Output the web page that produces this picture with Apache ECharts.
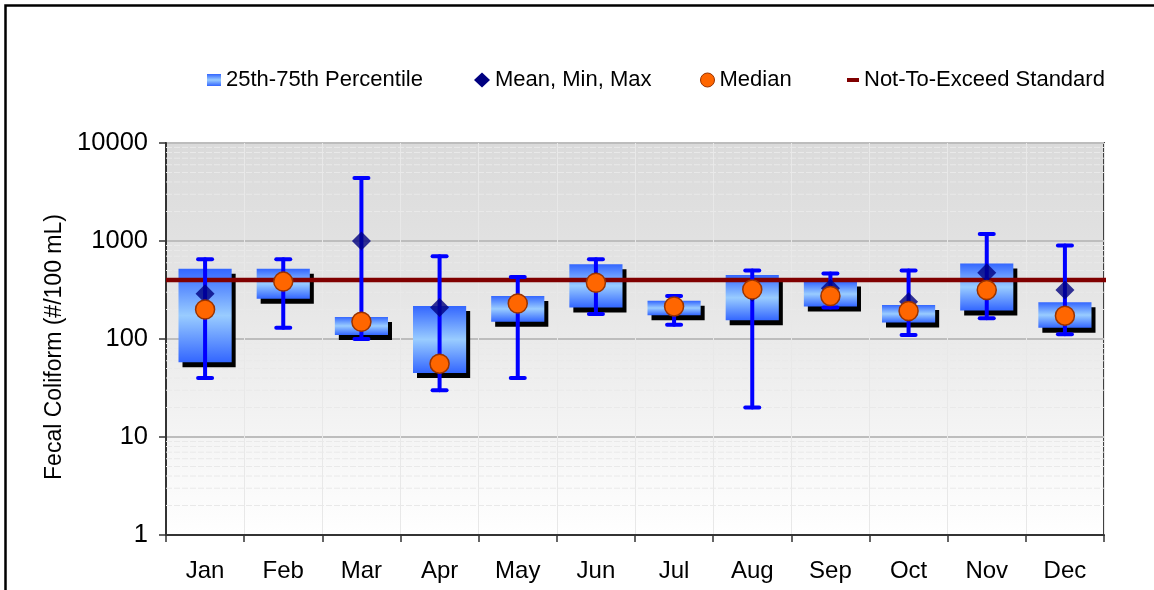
<!DOCTYPE html>
<html>
<head>
<meta charset="utf-8">
<script src="https://cdn.jsdelivr.net/npm/echarts@6/dist/echarts.min.js"></script>
<style>
  html, body { margin: 0; padding: 0; background: #fff; }
  #chart { width: 1154px; height: 590px; }
</style>
</head>
<body>
<div id="chart"></div>
<script>
// ---- Data ----
const months  = ['Jan','Feb','Mar','Apr','May','Jun','Jul','Aug','Sep','Oct','Nov','Dec'];
const p25     = [58, 258, 110, 45, 150, 210, 175, 155, 215, 147, 195, 130];
const p75     = [520, 520, 168, 217, 275, 580, 245, 450, 385, 222, 590, 237];
const minVals = [40, 130, 100, 30, 40, 180, 140, 20, 210, 110, 163, 112];
const maxVals = [650, 650, 4400, 700, 430, 650, 275, 500, 465, 500, 1180, 900];
const means   = [290, 385, 1000, 210, 230, 390, 215, 300, 330, 240, 475, 316];
const medians = [200, 385, 150, 56, 230, 375, 215, 320, 275, 193, 316, 173];
const standard = [400];
const yTicks = [1, 10, 100, 1000, 10000];

const FONT = "'Liberation Sans', Arial, sans-serif";

function blueGradient() {
  return new echarts.graphic.LinearGradient(0, 0, 0, 1, [
    { offset: 0, color: '#3366ff' },
    { offset: 0.5, color: '#99ccff' },
    { offset: 1, color: '#3366ff' }
  ]);
}

// minor log gridlines (2..9 in each decade)
const minorLines = [];
for (let d = 0; d < yTicks.length - 1; d++) {
  for (let k = 2; k <= 9; k++) minorLines.push([0, yTicks[d] * k]);
}

const chart = echarts.init(document.getElementById('chart'), null, { renderer: 'canvas' });

const legendText = { fontSize: 22, color: '#000', fontFamily: FONT };

const option = {
  animation: false,
  backgroundColor: '#ffffff',
  textStyle: { fontFamily: FONT },
  graphic: [{
    type: 'rect', silent: true, z: 100,
    shape: { x: 5.5, y: 5.5, width: 2000, height: 2000 },
    style: { fill: 'none', stroke: '#000', lineWidth: 2.5 }
  }],
  legend: [
    { left: 207, top: 69, padding: 0, itemWidth: 14, itemHeight: 12, textStyle: legendText,
      data: [{ name: '25th-75th Percentile', icon: 'rect', itemStyle: { color: blueGradient() } }] },
    { left: 474, top: 69, padding: 0, itemWidth: 16, itemHeight: 15, textStyle: legendText,
      data: [{ name: 'Mean, Min, Max', icon: 'diamond', itemStyle: { color: '#000080' } }] },
    { left: 700, top: 69, padding: 0, itemWidth: 14, itemHeight: 14, textStyle: legendText,
      data: [{ name: 'Median', icon: 'circle', itemStyle: { color: '#ff6600', borderColor: '#993300', borderWidth: 1 } }] },
    { left: 847, top: 69, padding: 0, itemWidth: 12, itemHeight: 4, textStyle: legendText,
      data: [{ name: 'Not-To-Exceed Standard', icon: 'rect', itemStyle: { color: '#800000' } }] }
  ],
  grid: {
    left: 166, right: 50, top: 143, bottom: 55,
    show: true,
    backgroundColor: new echarts.graphic.LinearGradient(0, 0, 0, 1, [
      { offset: 0, color: '#dadada' },
      { offset: 0.35, color: '#e4e4e4' },
      { offset: 1, color: '#ffffff' }
    ]),
    borderColor: '#404040', borderWidth: 2
  },
  xAxis: {
    type: 'category',
    data: months,
    boundaryGap: true,
    axisLine: { lineStyle: { color: '#333', width: 2 } },
    axisTick: { show: true, length: 7, lineStyle: { color: '#333', width: 1.5 } },
    axisLabel: { fontSize: 24, color: '#000', margin: 24, fontFamily: FONT },
    splitLine: { show: true, lineStyle: { color: '#e8e8e8', width: 1 } }
  },
  yAxis: {
    type: 'log',
    logBase: 10,
    min: yTicks[0],
    max: yTicks[yTicks.length - 1],
    name: 'Fecal Coliform (#/100 mL)',
    nameLocation: 'middle',
    nameGap: 100,
    nameTextStyle: { fontSize: 23, color: '#000', fontFamily: FONT, padding: [0, 16, 0, 0] },
    axisLine: { show: true, lineStyle: { color: '#333', width: 2 } },
    axisTick: { show: true, length: 7, lineStyle: { color: '#333', width: 1.5 } },
    axisLabel: { fontSize: 25.5, color: '#000', margin: 18, fontFamily: FONT,
      formatter: v => String(Math.round(v)) },
    splitLine: { show: true, lineStyle: { color: '#bdbdbd', width: 2 } }
  },
  series: [
    {
      name: 'minor-grid',
      type: 'custom',
      silent: true,
      z: 1,
      data: minorLines,
      renderItem: function (params, api) {
        const p = api.coord([0, api.value(1)]);
        const cs = params.coordSys;
        return {
          type: 'line',
          silent: true,
          shape: { x1: cs.x, y1: p[1], x2: cs.x + cs.width, y2: p[1] },
          style: { stroke: '#e9e9e9', lineWidth: 1, lineDash: [6, 2] }
        };
      }
    },
    {
      name: '25th-75th Percentile',
      type: 'custom',
      z: 3,
      itemStyle: { color: '#3366ff' },
      data: months.map((m, i) => [i, p25[i], p75[i]]),
      renderItem: function (params, api) {
        const i = api.value(0);
        const lo = api.coord([i, api.value(1)]);
        const hi = api.coord([i, api.value(2)]);
        const band = params.coordSys.width / months.length;
        const bw = band * 0.68;
        const x = lo[0] - bw / 2;
        const h = lo[1] - hi[1];
        return {
          type: 'group',
          children: [
            { type: 'rect', shape: { x: x + 4, y: hi[1] + 5, width: bw, height: h }, style: { fill: '#000' } },
            { type: 'rect', shape: { x: x, y: hi[1], width: bw, height: h }, style: { fill: blueGradient() } }
          ]
        };
      }
    },
    {
      name: 'Not-To-Exceed Standard',
      type: 'custom',
      z: 4,
      itemStyle: { color: '#800000' },
      data: standard.map(v => [0, v]),
      renderItem: function (params, api) {
        const p = api.coord([0, api.value(1)]);
        const cs = params.coordSys;
        return {
          type: 'line',
          shape: { x1: cs.x, y1: p[1], x2: cs.x + cs.width + 2, y2: p[1] },
          style: { stroke: '#800000', lineWidth: 4.5 }
        };
      }
    },
    {
      name: 'Mean, Min, Max',
      type: 'custom',
      z: 5,
      itemStyle: { color: '#000080' },
      data: months.map((m, i) => [i, minVals[i], maxVals[i]]),
      renderItem: function (params, api) {
        const i = api.value(0);
        const lo = api.coord([i, api.value(1)]);
        const hi = api.coord([i, api.value(2)]);
        const cx = lo[0];
        const cap = 7;
        const st = { stroke: '#0000ff', lineWidth: 4, lineCap: 'round' };
        return {
          type: 'group',
          children: [
            { type: 'line', shape: { x1: cx, y1: hi[1], x2: cx, y2: lo[1] }, style: st },
            { type: 'line', shape: { x1: cx - cap, y1: hi[1], x2: cx + cap, y2: hi[1] }, style: st },
            { type: 'line', shape: { x1: cx - cap, y1: lo[1], x2: cx + cap, y2: lo[1] }, style: st }
          ]
        };
      }
    },
    {
      name: 'Mean, Min, Max',
      type: 'scatter',
      z: 6,
      symbol: 'diamond',
      symbolSize: [19, 19],
      itemStyle: { color: '#000080' },
      data: means
    },
    {
      name: 'Median',
      type: 'scatter',
      z: 7,
      symbol: 'circle',
      symbolSize: 19,
      itemStyle: { color: '#ff6600', borderColor: '#993300', borderWidth: 1.5, opacity: 1 },
      data: medians
    }
  ]
};

chart.setOption(option);
</script>
</body>
</html>
